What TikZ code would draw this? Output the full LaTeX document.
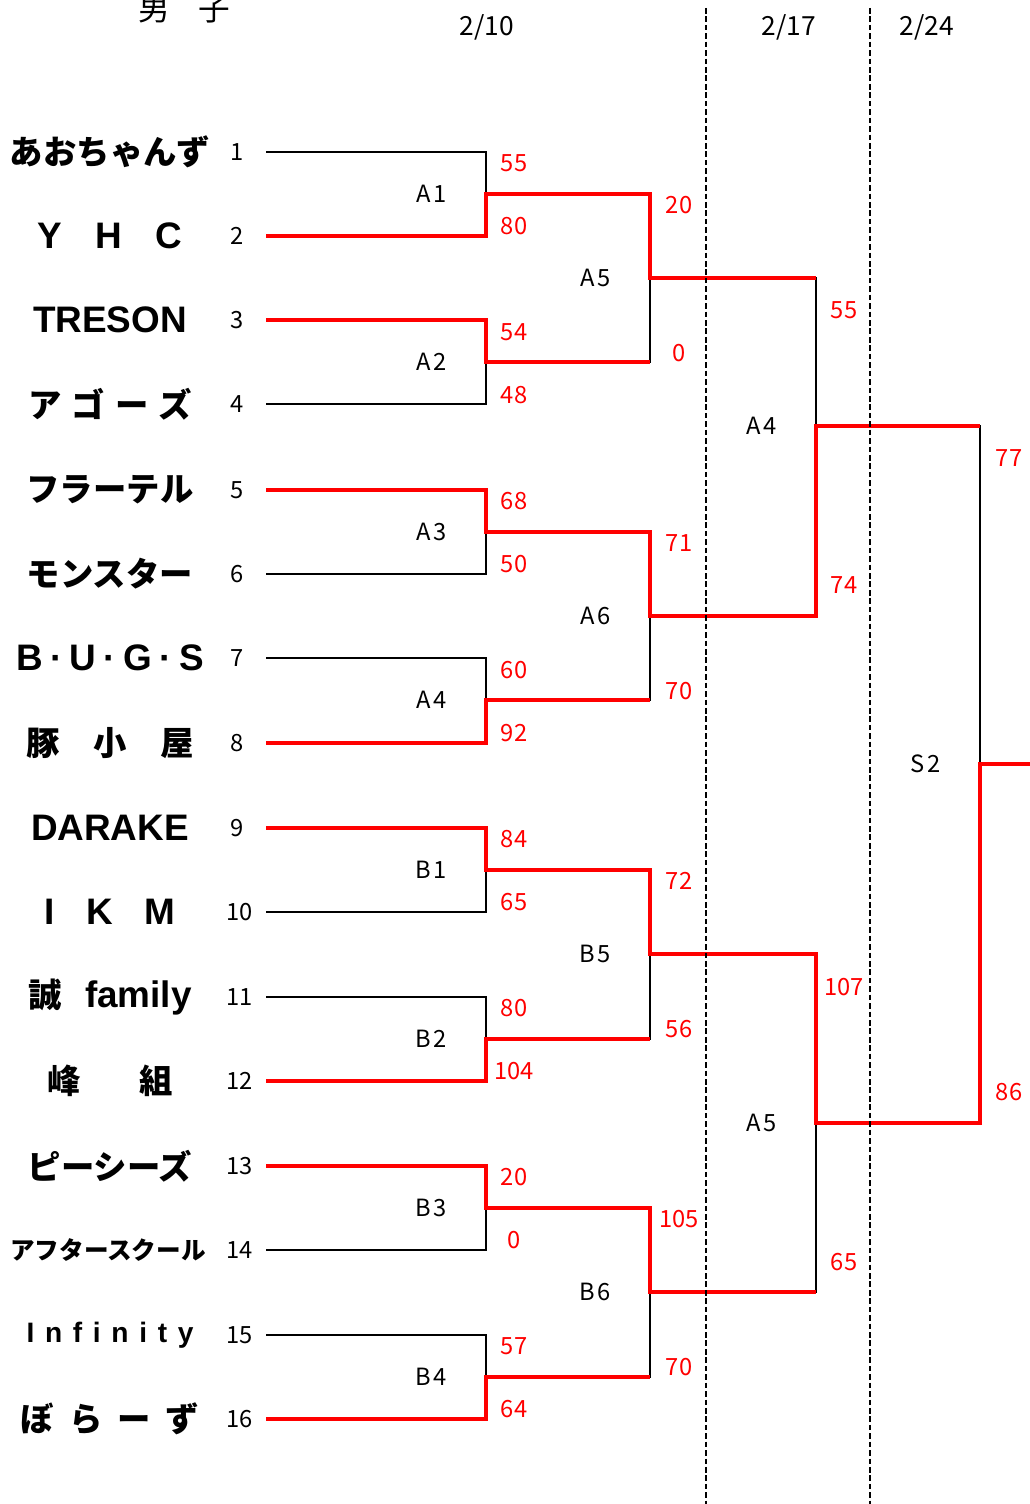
\documentclass[tikz,border=0pt]{standalone}
\usepackage{fontspec}
\setmainfont{Noto Sans CJK JP}
\newfontfamily\latfont{Liberation Sans}
\usetikzlibrary{positioning}
\definecolor{winred}{RGB}{255,0,0}

\begin{document}
\begin{tikzpicture}[
    x=0.02cm, y=-0.02cm,
    team/.style={font=\fontsize{19}{19}\selectfont\bfseries, inner sep=0pt},
    teamlat/.style={font=\latfont\fontsize{21}{21}\selectfont\bfseries, inner sep=0pt},
    num/.style={font=\fontsize{13.5}{14}\selectfont, inner sep=1pt},
    score/.style={text=winred, font=\fontsize{13.5}{14}\selectfont, inner sep=0pt},
    match/.style={font=\fontsize{13.5}{14}\selectfont\addfontfeature{LetterSpace=12}, inner sep=1pt},
    datelabel/.style={font=\fontsize{15}{15}\selectfont, inner sep=0pt},
    lose/.style={draw=black, line width=1.2pt},
    win/.style={draw=winred, line width=2.6pt},
    divider/.style={draw=black, line width=1.5pt, dash pattern=on 3.2pt off 1.6pt},
]
\useasboundingbox (0,0) rectangle (1030,1504);

% ============ Headers ============
\node[datelabel, font=\fontsize{18}{18}\selectfont] (title) at (184,9) {男\hspace{0.9em}子};
\node[datelabel] (day1) at (487,27) {2/10};
\node[datelabel] (day2) at (789,27) {2/17};
\node[datelabel] (day3) at (927,27) {2/24};

% ============ Teams ============
\node[team] (team1) at (110,152) {あおちゃんず};
\node[teamlat] (team2) at (110,236) {Y\hspace{0.9em}H\hspace{0.9em}C};
\node[teamlat] (team3) at (110,320) {TRESON};
\node[team] (team4) at (110,404) {ア\hspace{0.3em}ゴ\hspace{0.3em}ー\hspace{0.3em}ズ};
\node[team] (team5) at (110,490) {フラーテル};
\node[team] (team6) at (110,574) {モンスター};
\node[teamlat] (team7) at (110,658) {B\hspace{0.2em}·\hspace{0.2em}U\hspace{0.2em}·\hspace{0.2em}G\hspace{0.2em}·\hspace{0.2em}S};
\node[team] (team8) at (110,743) {豚\hspace{1em}小\hspace{1em}屋};
\node[teamlat] (team9) at (110,828) {DARAKE};
\node[teamlat] (team10) at (110,912) {I\hspace{0.85em}K\hspace{0.85em}M};
\node[team] (team11) at (110,997) {誠\hspace{0.7em}{\latfont\fontsize{21}{21}\selectfont family}};
\node[team] (team12) at (110,1081) {峰\hspace{1.75em}組};
\node[team] (team13) at (110,1166) {ピーシーズ};
\node[team, font=\fontsize{14}{14}\selectfont\bfseries] (team14) at (108,1250) {アフタースクール};
\node[teamlat, font=\latfont\fontsize{16}{16}\selectfont\bfseries\addfontfeature{LetterSpace=38}] (team15) at (110,1335) {Infinity};
\node[team] (team16) at (110,1419) {ぼ\hspace{0.45em}ら\hspace{0.45em}ー\hspace{0.45em}ず};

% line starts
\coordinate (t1) at (266,152);  \coordinate (t2) at (266,236);
\coordinate (t3) at (266,320);  \coordinate (t4) at (266,404);
\coordinate (t5) at (266,490);  \coordinate (t6) at (266,574);
\coordinate (t7) at (266,658);  \coordinate (t8) at (266,743);
\coordinate (t9) at (266,828);  \coordinate (t10) at (266,912);
\coordinate (t11) at (266,997); \coordinate (t12) at (266,1081);
\coordinate (t13) at (266,1166); \coordinate (t14) at (266,1250);
\coordinate (t15) at (266,1335); \coordinate (t16) at (266,1419);

\node[num, left=0.4cm of t1] (n1) {1};
\node[num, left=0.4cm of t2] (n2) {2};
\node[num, left=0.4cm of t3] (n3) {3};
\node[num, left=0.4cm of t4] (n4) {4};
\node[num, left=0.4cm of t5] (n5) {5};
\node[num, left=0.4cm of t6] (n6) {6};
\node[num, left=0.4cm of t7] (n7) {7};
\node[num, left=0.4cm of t8] (n8) {8};
\node[num, left=0.4cm of t9] (n9) {9};
\node[num, left=0.22cm of t10] (n10) {10};
\node[num, left=0.22cm of t11] (n11) {11};
\node[num, left=0.22cm of t12] (n12) {12};
\node[num, left=0.22cm of t13] (n13) {13};
\node[num, left=0.22cm of t14] (n14) {14};
\node[num, left=0.22cm of t15] (n15) {15};
\node[num, left=0.22cm of t16] (n16) {16};

% ============ Joins ============
\coordinate (j1) at (486,194);  \coordinate (j2) at (486,362);
\coordinate (j3) at (486,532);  \coordinate (j4) at (486,700);
\coordinate (j5) at (486,870);  \coordinate (j6) at (486,1039);
\coordinate (j7) at (486,1208); \coordinate (j8) at (486,1377);
\coordinate (k1) at (650,278);  \coordinate (k2) at (650,616);
\coordinate (k3) at (650,954);  \coordinate (k4) at (650,1292);
\coordinate (l1) at (816,426);  \coordinate (l2) at (816,1123);
\coordinate (fin) at (980,764); \coordinate (champ) at (1030,764);

% match labels
\node[match, left=0.74cm of j1] (mA1) {A1};
\node[match, left=0.74cm of j2] (mA2) {A2};
\node[match, left=0.74cm of j3] (mA3) {A3};
\node[match, left=0.74cm of j4] (mA4) {A4};
\node[match, left=0.74cm of j5] (mB1) {B1};
\node[match, left=0.74cm of j6] (mB2) {B2};
\node[match, left=0.74cm of j7] (mB3) {B3};
\node[match, left=0.74cm of j8] (mB4) {B4};
\node[match, left=0.74cm of k1] (mA5) {A5};
\node[match, left=0.74cm of k2] (mA6) {A6};
\node[match, left=0.74cm of k3] (mB5) {B5};
\node[match, left=0.74cm of k4] (mB6) {B6};
\node[match, left=0.74cm of l1] (mQA) {A4};
\node[match, left=0.74cm of l2] (mQB) {A5};
\node[match, left=0.74cm of fin] (mS2) {S2};

% ============ Bracket ============
\draw[lose] (t1) -| (j1);  \draw[lose] (t2) -| (j1);
\draw[lose] (t3) -| (j2);  \draw[lose] (t4) -| (j2);
\draw[lose] (t5) -| (j3);  \draw[lose] (t6) -| (j3);
\draw[lose] (t7) -| (j4);  \draw[lose] (t8) -| (j4);
\draw[lose] (t9) -| (j5);  \draw[lose] (t10) -| (j5);
\draw[lose] (t11) -| (j6); \draw[lose] (t12) -| (j6);
\draw[lose] (t13) -| (j7); \draw[lose] (t14) -| (j7);
\draw[lose] (t15) -| (j8); \draw[lose] (t16) -| (j8);
\draw[lose] (j1) -| (k1);  \draw[lose] (j2) -| (k1);
\draw[lose] (j3) -| (k2);  \draw[lose] (j4) -| (k2);
\draw[lose] (j5) -| (k3);  \draw[lose] (j6) -| (k3);
\draw[lose] (j7) -| (k4);  \draw[lose] (j8) -| (k4);
\draw[lose] (k1) -| (l1);  \draw[lose] (k2) -| (l1);
\draw[lose] (k3) -| (l2);  \draw[lose] (k4) -| (l2);
\draw[lose] (l1) -| (fin); \draw[lose] (l2) -| (fin);

% winners
\draw[win] (t2) -| (j1) -| (k1) -- (k1 -| l1);
\draw[win] (t3) -| (j2) -- (j2 -| k1);
\draw[win] (t5) -| (j3) -| (k2) -| (l1) -- (l1 -| fin);
\draw[win] (t8) -| (j4) -- (j4 -| k2);
\draw[win] (t9) -| (j5) -| (k3) -| (l2) -| (fin) -- (champ);
\draw[win] (t12) -| (j6) -- (j6 -| k3);
\draw[win] (t13) -| (j7) -| (k4) -- (k4 -| l2);
\draw[win] (t16) -| (j8) -- (j8 -| k4);

% ============ Scores ============
\node[score] (sA1a) at (514,163) {55};   \node[score] (sA1b) at (514,226) {80};
\node[score] (sA2a) at (514,332) {54};   \node[score] (sA2b) at (514,395) {48};
\node[score] (sA3a) at (514,501) {68};   \node[score] (sA3b) at (514,564) {50};
\node[score] (sA4a) at (514,670) {60};   \node[score] (sA4b) at (514,733) {92};
\node[score] (sB1a) at (514,839) {84};   \node[score] (sB1b) at (514,902) {65};
\node[score] (sB2a) at (514,1008) {80};  \node[score] (sB2b) at (514,1071) {104};
\node[score] (sB3a) at (514,1177) {20};  \node[score] (sB3b) at (514,1240) {0};
\node[score] (sB4a) at (514,1346) {57};  \node[score] (sB4b) at (514,1409) {64};
\node[score] (sA5a) at (679,205) {20};   \node[score] (sA5b) at (679,353) {0};
\node[score] (sA6a) at (679,543) {71};   \node[score] (sA6b) at (679,691) {70};
\node[score] (sB5a) at (679,881) {72};   \node[score] (sB5b) at (679,1029) {56};
\node[score] (sB6a) at (679,1219) {105}; \node[score] (sB6b) at (679,1367) {70};
\node[score] (sQAa) at (844,310) {55};   \node[score] (sQAb) at (844,585) {74};
\node[score] (sQBa) at (844,987) {107};  \node[score] (sQBb) at (844,1262) {65};
\node[score] (sS2a) at (1009,458) {77};  \node[score] (sS2b) at (1009,1092) {86};

% ============ Day dividers ============
\coordinate (dv1t) at (706,8);  \coordinate (dv1b) at (706,1504);
\coordinate (dv2t) at (870,8);  \coordinate (dv2b) at (870,1504);
\draw[divider] (dv1t) -- (dv1b);
\draw[divider] (dv2t) -- (dv2b);

\end{tikzpicture}
\end{document}
